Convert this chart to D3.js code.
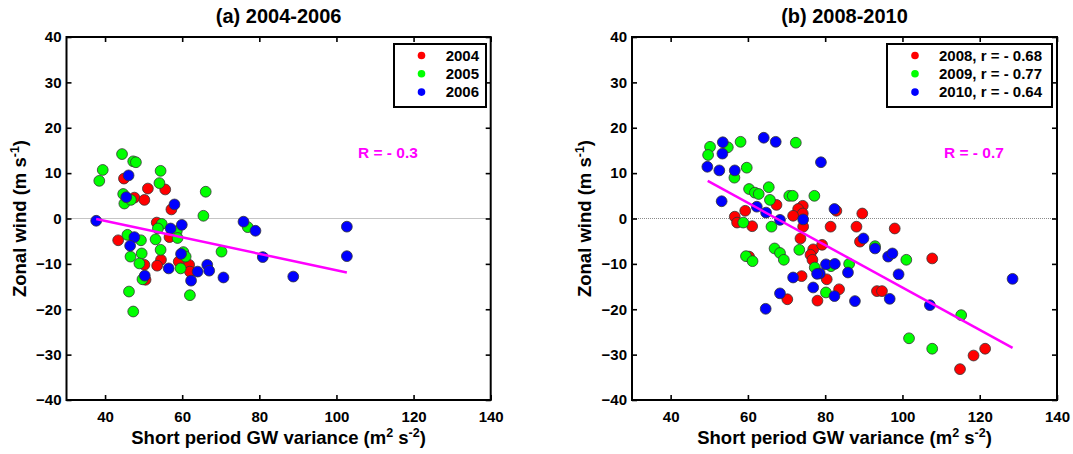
<!DOCTYPE html>
<html>
<head>
<meta charset="utf-8">
<script src="https://cdn.jsdelivr.net/npm/d3@7"></script>
<style>
  html, body { margin: 0; padding: 0; background: #fff; }
  svg { display: block; font-family: "Liberation Sans", Arial, sans-serif; font-weight: bold; }
</style>
</head>
<body>
<svg id="chart" width="1073" height="454"></svg>
<script>
// Axis ranges and ticks shared by both panels
const xDomain = [30, 140];
const yDomain = [-40, 40];
const xTicks = [40, 60, 80, 100, 120, 140];
const yTicks = [-40, -30, -20, -10, 0, 10, 20, 30, 40];

// Panel (a): 2004-2006  [GW variance, zonal wind]
const titleA = "(a) 2004-2006";
const legendA = ["2004", "2005", "2006"];
const a2004 = [[44.9,8.8],[47.6,4.6],[50.2,4.1],[51.1,6.6],[55.6,6.4],[57.2,2.0],[53.4,-0.9],[56.7,-4.1],
  [43.4,-4.8],[50.2,-10.2],[54.5,-9.1],[53.5,-10.4],[59.1,-9.5],[61.8,-10.2],[62.0,-11.7],[50.5,-13.5]];
const a2005 = [[38.5,8.3],[39.4,10.7],[44.4,14.2],[47.3,12.6],[48.0,12.4],[44.7,5.4],[45.0,3.3],[46.7,4.1],
  [54.4,10.5],[54.1,7.8],[66.1,5.9],[65.5,0.6],[54.7,-1.2],[53.7,-2.2],[58.6,-2.8],[58.8,-4.3],[45.8,-3.6],
  [49.3,-4.8],[53.1,-4.6],[54.4,-6.9],[49.5,-7.7],[46.6,-8.4],[48.9,-9.9],[59.6,-11.0],[60.3,-7.4],[60.9,-8.4],
  [62.0,-16.9],[49.7,-13.4],[46.2,-16.1],[47.3,-20.5],[77.0,-1.9],[70.2,-7.3]];
const a2006 = [[37.7,-0.5],[46.1,9.5],[45.5,4.7],[58.0,3.1],[57.0,-2.2],[59.9,-1.4],[47.6,-4.1],[46.5,-6.0],
  [56.5,-11.0],[59.7,-7.8],[62.3,-13.7],[64.0,-11.7],[66.5,-10.2],[67.0,-11.5],[50.3,-12.6],[75.9,-0.7],
  [79.0,-2.7],[80.9,-8.5],[70.7,-13.0],[88.8,-12.8],[102.7,-1.8],[102.7,-8.3]];
const fitA = [[37.7,-0.1],[102.7,-11.9]];
const corrA = "R = - 0.3";

// Panel (b): 2008-2010
const titleB = "(b) 2008-2010";
const legendB = ["2008, r = - 0.68", "2009, r = - 0.77", "2010, r = - 0.64"];
const b2008 = [[67.4,3.0],[59.3,1.7],[56.6,0.4],[57.2,-0.9],[61.1,-1.7],[74.2,2.8],[73.0,2.1],[74.2,1.1],
  [71.7,0.6],[82.9,1.7],[89.6,1.1],[74.3,-1.8],[81.4,-1.8],[88.1,-1.8],[98.0,-2.2],[60.3,-8.4],[73.6,-4.4],
  [76.9,-6.8],[79.2,-5.8],[76.2,-8.0],[76.7,-9.1],[80.4,-13.4],[73.9,-12.7],[83.6,-15.6],[78.0,-18.1],
  [70.2,-17.8],[89.0,-5.1],[93.4,-16.0],[94.7,-16.0],[107.7,-8.8],[121.4,-28.7],[118.4,-30.2],[114.9,-33.2]];
const b2009 = [[50.2,15.8],[49.7,14.0],[54.8,15.7],[58.1,16.9],[56.5,9.0],[59.7,11.2],[60.3,6.5],[61.8,5.7],
  [62.8,5.4],[65.4,6.9],[65.7,4.1],[58.8,-0.9],[66.1,-1.8],[72.4,16.7],[70.7,5.0],[71.6,5.0],[77.2,5.0],
  [59.5,-8.3],[61.2,-9.4],[66.9,-6.6],[68.3,-7.6],[69.3,-9.1],[73.3,-6.9],[77.3,-10.8],[81.5,-10.5],
  [80.2,-16.3],[86.2,-10.0],[92.9,-6.1],[101.0,-9.1],[115.2,-21.3],[101.7,-26.4],[107.7,-28.7]];
const b2010 = [[53.5,16.8],[53.4,14.3],[64.1,17.8],[67.2,16.9],[49.5,11.4],[52.6,10.6],[56.6,10.6],[53.2,3.8],
  [62.3,2.6],[64.7,1.3],[78.9,12.4],[74.3,-0.2],[82.4,2.1],[68.3,-0.3],[68.3,-16.5],[64.6,-19.9],[80.2,-10.1],
  [82.5,-10.0],[78.6,-12.1],[77.9,-12.2],[71.7,-13.0],[76.9,-15.2],[82.4,-17.1],[87.7,-18.2],[85.9,-11.9],
  [89.9,-4.4],[92.9,-6.6],[96.3,-8.4],[97.4,-7.7],[99.0,-12.3],[96.7,-17.7],[107.1,-19.1],[128.5,-13.3]];
const fitB = [[49.6,8.3],[128.5,-28.5]];
const corrB = "R = - 0.7";

const seriesColors = ["#ff0000", "#00ff00", "#0000ff"];

const svg = d3.select("#chart");

function drawPanel(opts) {
  const x = d3.scaleLinear(xDomain, opts.xRange);
  const y = d3.scaleLinear(yDomain, [400, 37]);
  const g = svg.append("g");
  const [x0, x1] = opts.xRange;
  const cx = (x0 + x1) / 2;

  // zero reference line
  g.append("line")
    .attr("x1", x0).attr("x2", x1)
    .attr("y1", y(0)).attr("y2", y(0))
    .attr("stroke", "#8a8a8a").attr("stroke-width", 1)
    .attr("stroke-dasharray", "1,1");

  // scatter points, one series after another
  opts.series.forEach((pts, i) => {
    g.append("g").selectAll("circle")
      .data(pts).enter().append("circle")
      .attr("cx", d => x(d[0])).attr("cy", d => y(d[1]))
      .attr("r", 5.4)
      .attr("fill", seriesColors[i])
      .attr("stroke", "#333").attr("stroke-width", 0.8);
  });

  // least-squares fit line
  g.append("path")
    .datum(opts.fit)
    .attr("d", d3.line().x(d => x(d[0])).y(d => y(d[1])))
    .attr("fill", "none").attr("stroke", "#ff00ff").attr("stroke-width", 2.5);

  // axes with inward ticks
  const tickStyle = sel => {
    sel.select(".domain").remove();
    sel.selectAll(".tick line").attr("stroke", "#000").attr("stroke-width", 1.6);
    sel.selectAll(".tick text").attr("fill", "#000").style("font-size", "15px")
      .style("font-family", "'Liberation Sans', Arial, sans-serif").style("font-weight", "bold");
  };
  g.append("g").attr("transform", `translate(0,400)`)
    .call(d3.axisBottom(x).tickValues(xTicks).tickSize(-5).tickPadding(11).tickFormat(d3.format("d")))
    .call(tickStyle);
  g.append("g").attr("transform", `translate(0,37)`)
    .call(d3.axisTop(x).tickValues(xTicks).tickSize(-5).tickFormat(""))
    .call(tickStyle);
  g.append("g").attr("transform", `translate(${x0},0)`)
    .call(d3.axisLeft(y).tickValues(yTicks).tickSize(-5).tickPadding(5).tickFormat(d3.format("d")))
    .call(tickStyle);
  g.append("g").attr("transform", `translate(${x1},0)`)
    .call(d3.axisRight(y).tickValues(yTicks).tickSize(-5).tickFormat(""))
    .call(tickStyle);

  // frame
  g.append("rect")
    .attr("x", x0).attr("y", 37).attr("width", x1 - x0).attr("height", 363)
    .attr("fill", "none").attr("stroke", "#000").attr("stroke-width", 2);

  // title
  g.append("text").attr("x", cx).attr("y", 23)
    .attr("text-anchor", "middle").style("font-size", "20px").text(opts.title);

  // x axis title
  const xt = g.append("text").attr("x", cx).attr("y", 444)
    .attr("text-anchor", "middle").style("font-size", "18.5px");
  xt.append("tspan").text("Short period GW variance (m");
  xt.append("tspan").attr("dy", -7).style("font-size", "12.5px").text("2");
  xt.append("tspan").attr("dy", 7).text(" s");
  xt.append("tspan").attr("dy", -7).style("font-size", "12.5px").text("-2");
  xt.append("tspan").attr("dy", 7).text(")");

  // y axis title
  const yt = g.append("text")
    .attr("transform", `translate(${x0 - 41},${y(0)}) rotate(-90)`)
    .attr("text-anchor", "middle").style("font-size", "18.5px");
  yt.append("tspan").text("Zonal wind (m s");
  yt.append("tspan").attr("dy", -7).style("font-size", "12.5px").text("-1");
  yt.append("tspan").attr("dy", 7).text(")");

  // correlation label
  g.append("text").attr("x", opts.corrX).attr("y", 158)
    .attr("fill", "#ff00ff").style("font-size", "15.5px").text(opts.corr);

  // legend
  const lg = g.append("g");
  lg.append("rect")
    .attr("x", opts.legend.x).attr("y", 44).attr("width", opts.legend.w).attr("height", 63)
    .attr("fill", "#fff").attr("stroke", "#000").attr("stroke-width", 2);
  opts.labels.forEach((lab, i) => {
    const ly = 55.5 + i * 18.3;
    lg.append("circle").attr("cx", opts.legend.mx).attr("cy", ly).attr("r", 3.8)
      .attr("fill", seriesColors[i]);
    lg.append("text").attr("x", opts.legend.tx).attr("y", ly + 5.3)
      .attr("text-anchor", opts.legend.anchor).style("font-size", "15px").text(lab);
  });
}

drawPanel({
  xRange: [66.5, 490.7], title: titleA, series: [a2004, a2005, a2006], fit: fitA,
  corr: corrA, corrX: 358, labels: legendA,
  legend: { x: 394, w: 92, mx: 421.5, tx: 479, anchor: "end" }
});
drawPanel({
  xRange: [632, 1057], title: titleB, series: [b2008, b2009, b2010], fit: fitB,
  corr: corrB, corrX: 944, labels: legendB,
  legend: { x: 887, w: 165, mx: 915, tx: 939, anchor: "start" }
});
</script>
</body>
</html>
